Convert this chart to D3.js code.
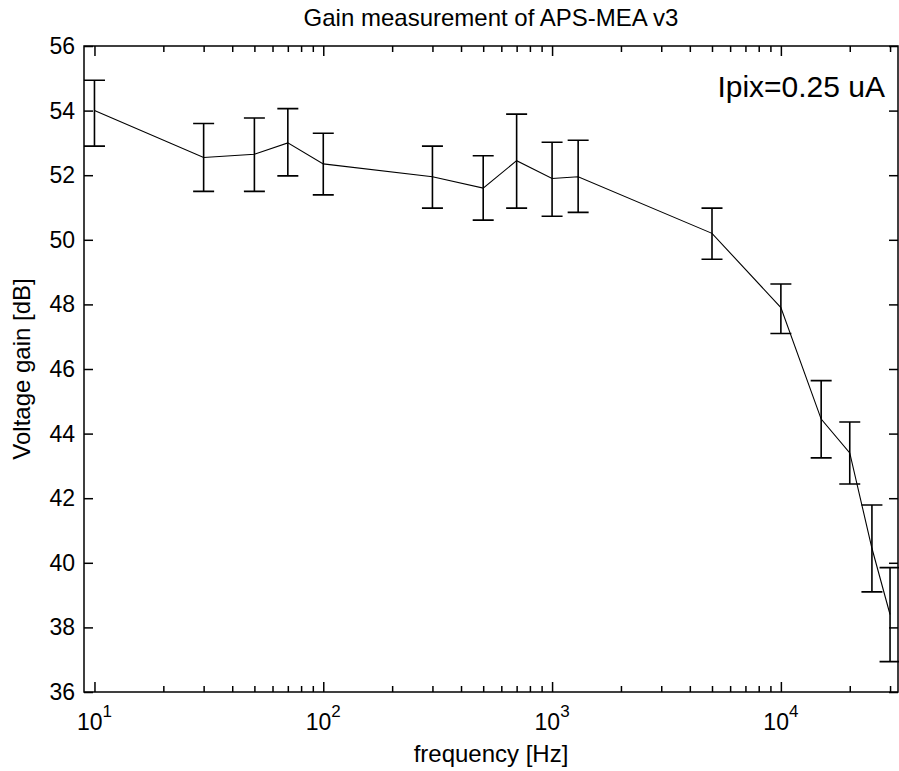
<!DOCTYPE html>
<html>
<head>
<meta charset="utf-8">
<script src="https://cdn.jsdelivr.net/npm/d3@7"></script>
<style>
  body { margin: 0; background: #fff; }
  svg { display: block; font-family: "Liberation Sans", Arial, sans-serif; }
  .axis line { stroke: #000; stroke-width: 1.5; }
  .axis path { display: none; }
</style>
</head>
<body>
<svg id="chart" width="899" height="771"></svg>
<script>
// measured data (frequency in Hz, gain in dB)
const freq  = [10, 30, 50, 70, 100, 300, 500, 700, 1000, 1300, 5000, 10000, 15000, 20000, 25000, 30000];
const gain  = [54.0, 52.55, 52.65, 53.0, 52.35, 51.95, 51.6, 52.45, 51.9, 51.95, 50.2, 47.9, 44.45, 43.4, 40.45, 38.4];
const upper = [54.94, 53.6, 53.77, 54.06, 53.3, 52.9, 52.6, 53.89, 53.02, 53.08, 50.98, 48.63, 45.64, 44.36, 41.79, 39.85];
const lower = [52.9, 51.5, 51.5, 51.98, 51.39, 50.98, 50.61, 50.98, 50.73, 50.85, 49.4, 47.1, 43.25, 42.44, 39.1, 36.94];

const xMajor = [10, 100, 1000, 10000];
const xExp = ['1', '2', '3', '4'];
const yTicks = [36, 38, 40, 42, 44, 46, 48, 50, 52, 54, 56];

const titleText = 'Gain measurement of APS-MEA v3';
const xTitle = 'frequency [Hz]';
const yTitle = 'Voltage gain [dB]';
const note = 'Ipix=0.25 uA';

const margin = { top: 46, right: 1, bottom: 79, left: 84 };
const W = 899, H = 771;
const width = W - margin.left - margin.right;
const height = H - margin.top - margin.bottom;

const svg = d3.select('#chart');
svg.append('rect').attr('width', W).attr('height', H).attr('fill', '#fff');

const chart = svg.append('g')
    .attr('transform', `translate(${margin.left},${margin.top})`);

const xScale = d3.scaleLog().domain([9, 32500]).range([0, width]);
const yScale = d3.scaleLinear().domain([36, 56]).range([height, 0]);

// minor ticks 2..9 of each decade inside domain
const xMinor = [];
[1, 10, 100, 1000, 10000].forEach(b => {
    for (let k = 2; k <= 9; k++) {
        const v = b * k;
        if (v > 9 && v < 32500) xMinor.push(v);
    }
});

// bottom / top ticks (inward)
chart.append('g').attr('class', 'axis')
    .attr('transform', `translate(0,${height})`)
    .call(d3.axisBottom(xScale).tickValues(xMajor).tickSize(-10).tickFormat(''));
chart.append('g').attr('class', 'axis')
    .attr('transform', `translate(0,${height})`)
    .call(d3.axisBottom(xScale).tickValues(xMinor).tickSize(-6).tickFormat(''));
chart.append('g').attr('class', 'axis')
    .call(d3.axisTop(xScale).tickValues(xMajor).tickSize(-10).tickFormat(''));
chart.append('g').attr('class', 'axis')
    .call(d3.axisTop(xScale).tickValues(xMinor).tickSize(-6).tickFormat(''));

// left / right ticks
chart.append('g').attr('class', 'axis')
    .call(d3.axisLeft(yScale).tickValues(yTicks).tickSize(-9).tickFormat(''));
chart.append('g').attr('class', 'axis')
    .attr('transform', `translate(${width},0)`)
    .call(d3.axisRight(yScale).tickValues(yTicks).tickSize(-9).tickFormat(''));

// box
chart.append('rect')
    .attr('width', width).attr('height', height)
    .attr('fill', 'none').attr('stroke', '#000').attr('stroke-width', 1.5);

// y tick labels
chart.selectAll('.ylab')
    .data(yTicks)
    .join('text')
    .attr('class', 'ylab')
    .attr('x', -9)
    .attr('y', d => yScale(d))
    .attr('dy', '0.35em')
    .attr('text-anchor', 'end')
    .attr('font-size', 23)
    .text(d => d);

// x tick labels 10^n
const xl = chart.selectAll('.xlab')
    .data(xMajor)
    .join('text')
    .attr('class', 'xlab')
    .attr('x', d => xScale(d))
    .attr('y', height + 38)
    .attr('text-anchor', 'middle')
    .attr('font-size', 23);
xl.append('tspan').text('10');
xl.append('tspan').attr('dy', -13).attr('font-size', 17).text((d, i) => xExp[i]);

// data line
const pts = freq.map((f, i) => ({ f: f, g: gain[i], hi: upper[i], lo: lower[i] }));

chart.append('path')
    .datum(pts)
    .attr('fill', 'none')
    .attr('stroke', '#000')
    .attr('stroke-width', 1.1)
    .attr('d', d3.line().x(d => xScale(d.f)).y(d => yScale(d.g)));

// error bars
const cap = 10.5;
const eb = chart.append('g')
    .attr('stroke', '#000')
    .attr('stroke-width', 1.6)
    .attr('fill', 'none');
eb.selectAll('.ebar')
    .data(pts)
    .join('path')
    .attr('class', 'ebar')
    .attr('d', d => {
        const x = xScale(d.f), y1 = yScale(d.hi), y0 = yScale(d.lo);
        return `M${x},${y1}V${y0}M${x - cap},${y1}H${x + cap}M${x - cap},${y0}H${x + cap}`;
    });

// titles
svg.append('text')
    .attr('x', margin.left + width / 2)
    .attr('y', 26)
    .attr('text-anchor', 'middle')
    .attr('font-size', 24)
    .text(titleText);

svg.append('text')
    .attr('x', margin.left + width / 2)
    .attr('y', 762)
    .attr('text-anchor', 'middle')
    .attr('font-size', 24)
    .text(xTitle);

svg.append('text')
    .attr('transform', `translate(29.5,${margin.top + height / 2}) rotate(-90)`)
    .attr('text-anchor', 'middle')
    .attr('font-size', 24)
    .text(yTitle);

svg.append('text')
    .attr('x', 885)
    .attr('y', 97)
    .attr('text-anchor', 'end')
    .attr('font-size', 30)
    .text(note);
</script>
</body>
</html>
